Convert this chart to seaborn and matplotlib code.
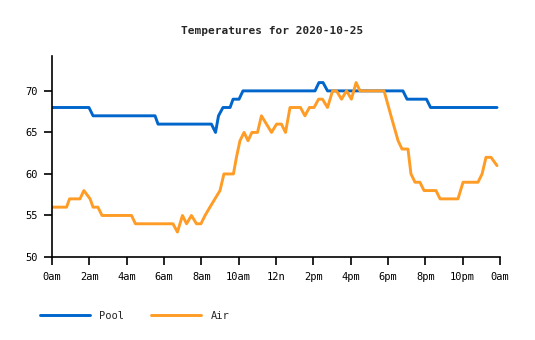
import matplotlib
matplotlib.use("Agg")
import matplotlib.pyplot as plt
import seaborn as sns
import pandas as pd

# ---- data (hours since midnight, degrees) ----
pool_hours = [0.00, 1.98, 2.20, 5.52, 5.68, 8.54, 8.76, 8.92, 9.16, 9.54, 9.70, 10.02,
              10.23, 14.09, 14.30, 14.52, 14.76, 18.80, 19.02, 20.06, 20.28, 23.84]
pool_temps = [68, 68, 67, 67, 66, 66, 65, 67, 68, 68, 69, 69,
              70, 70, 71, 71, 70, 70, 69, 69, 68, 68]

air_hours = [0.00, 0.78, 0.94, 1.50, 1.71, 2.04, 2.20, 2.46, 2.68, 4.26, 4.47, 6.48,
             6.72, 6.99, 7.21, 7.47, 7.74, 7.98, 8.20, 8.46, 8.73, 9.00, 9.21, 9.72,
             9.88, 10.07, 10.29, 10.50, 10.71, 11.01, 11.22, 11.76, 12.03, 12.29, 12.51,
             12.75, 13.31, 13.55, 13.79, 14.04, 14.28, 14.49, 14.76, 15.03, 15.24, 15.51,
             15.78, 16.04, 16.29, 16.50, 17.79, 18.16, 18.54, 18.75, 19.07, 19.23, 19.45,
             19.71, 19.93, 20.57, 20.79, 21.75, 22.02, 22.82, 23.04, 23.25, 23.52, 23.84]
air_temps = [56, 56, 57, 57, 58, 57, 56, 56, 55, 55, 54, 54,
             53, 55, 54, 55, 54, 54, 55, 56, 57, 58, 60, 60,
             62, 64, 65, 64, 65, 65, 67, 65, 66, 66, 65,
             68, 68, 67, 68, 68, 69, 69, 68, 70, 70, 69,
             70, 69, 71, 70, 70, 67, 64, 63, 63, 60, 59,
             59, 58, 58, 57, 57, 59, 59, 60, 62, 62, 61]

tick_hours = [0, 2, 4, 6, 8, 10, 12, 14, 16, 18, 20, 22, 24]
tick_labels = ["0am", "2am", "4am", "6am", "8am", "10am", "12n",
               "2pm", "4pm", "6pm", "8pm", "10pm", "0am"]
y_ticks = [50, 55, 60, 65, 70]
series_names = ["Pool", "Air"]
series_colors = ["#0066cc", "#ff9c26"]
title = "Temperatures for 2020-10-25"

df = pd.concat([
    pd.DataFrame({"hour": pool_hours, "temp": pool_temps, "series": "Pool"}),
    pd.DataFrame({"hour": air_hours, "temp": air_temps, "series": "Air"}),
], ignore_index=True)

sns.set_style("white")
plt.rcParams["font.family"] = ["DejaVu Sans Mono", "DejaVu Sans"]

W, H = 535, 340
fig = plt.figure(figsize=(W / 100, H / 100), dpi=100)
ax = fig.add_axes([52 / W, 1 - 257 / H, (500 - 52) / W, (257 - 56) / H])

sns.lineplot(data=df, x="hour", y="temp", hue="series", hue_order=series_names,
             palette=series_colors, linewidth=2.1, ax=ax, sort=False,
             estimator=None)

ax.set_xlim(0, 24)
ax.set_ylim(50, 74.2)
ax.set_xticks(tick_hours)
ax.set_xticklabels(tick_labels)
ax.set_yticks(y_ticks)
ax.set_xlabel("")
ax.set_ylabel("")
for s in ["top", "right"]:
    ax.spines[s].set_visible(False)
for s in ["left", "bottom"]:
    ax.spines[s].set_color("black")
    ax.spines[s].set_linewidth(1.2)
ax.tick_params(axis="both", direction="out", length=6, width=1.2, color="black",
               labelsize=7.5, labelcolor="black", pad=4)
ax.tick_params(axis="x", pad=5)
ax.tick_params(left=True, bottom=True)

fig.text(272 / W, 1 - 31 / H, title, ha="center", va="center",
         fontsize=8, fontweight="bold")

handles, labels = ax.get_legend_handles_labels()
if ax.get_legend() is not None:
    ax.get_legend().remove()
leg = fig.legend(handles, labels, loc="center left",
                 bbox_to_anchor=(40 / W, 1 - 316 / H), ncol=2, frameon=False,
                 fontsize=7.5, handlelength=4.8, handletextpad=0.9,
                 columnspacing=2.6, borderpad=0, borderaxespad=0)
for lh in leg.get_lines():
    lh.set_linewidth(2.1)

fig.savefig("out.png", dpi=100)
